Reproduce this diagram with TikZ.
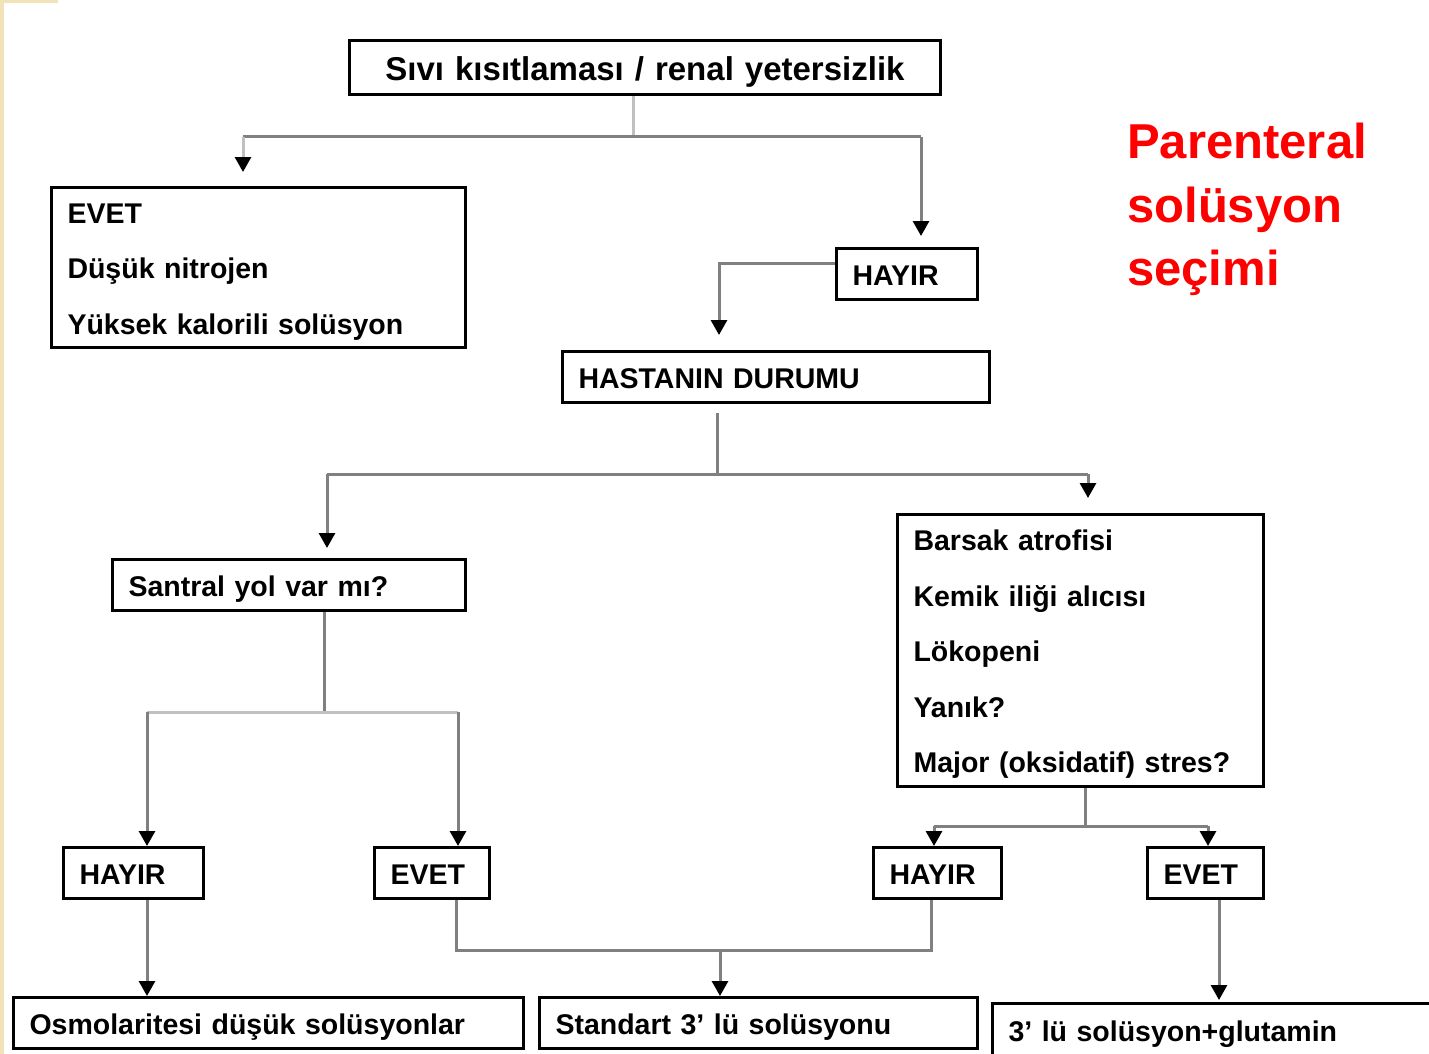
\documentclass[tikz,border=0pt]{standalone}
\usepackage{fontspec}
\setmainfont{Liberation Sans}
\usetikzlibrary{arrows.meta,calc}
\definecolor{conngray}{HTML}{808080}
\definecolor{connlight}{HTML}{C0C0C0}
\definecolor{slideedge}{HTML}{F2E2B8}
\definecolor{titlered}{HTML}{FF0000}
\newcommand{\firststrut}{\rule{0pt}{28pt}}
\tikzset{
  every node/.style={font=\fontsize{28.5}{55.5}\selectfont\bfseries},
  box/.style={draw=black, line width=3pt, inner xsep=16pt, inner ysep=0pt, align=left, anchor=center},
  single/.style={text height=26pt, text depth=2.6pt},
  conn/.style={draw=conngray, line width=3pt},
  connl/.style={draw=connlight, line width=3pt},
  arr/.style={-{Triangle[width=16pt,length=15pt,color=black]}},
}
\begin{document}
\begin{tikzpicture}[x=1pt,y=-1pt]
\clip (0,0) rectangle (1429,1054);
\fill[white] (0,0) rectangle (1429,1054);
\fill[slideedge] (0,0) rectangle (4,1054);
\fill[slideedge] (0,0) rectangle (58,3);

% boxes
\node[box, align=center, minimum width=591pt, minimum height=54pt, text width=559pt,
      font=\fontsize{33}{40}\selectfont\bfseries, text height=29pt, text depth=2.6pt] (top) at (645,67.5) {S\i v\i{} k\i s\i tlamas\i{} / renal yetersizlik};
\node[box, minimum width=414pt, minimum height=160pt, text width=382pt] (evetA) at (258.5,267.5) {\firststrut EVET\\Düşük nitrojen\\Yüksek kalorili solüsyon};
\node[box, single, minimum width=141pt, minimum height=51pt, text width=109pt] (hayirA) at (907,274) {HAYIR};
\node[box, single, minimum width=427pt, minimum height=51pt, text width=395pt] (hasta) at (776,377) {HASTANIN DURUMU};
\node[box, single, minimum width=353pt, minimum height=51pt, text width=321pt] (santral) at (289,585) {Santral yol var m\i ?};
\node[box, minimum width=366pt, minimum height=272pt, text width=334pt] (list) at (1080.5,650.5) {\firststrut Barsak atrofisi\\Kemik iliği al\i c\i s\i\\Lökopeni\\Yan\i k?\\Major (oksidatif) stres?};
\node[box, single, minimum width=140pt, minimum height=51pt, text width=108pt] (hayirL) at (133.5,873) {HAYIR};
\node[box, single, minimum width=115pt, minimum height=51pt, text width=83pt] (evetM) at (432,873) {EVET};
\node[box, single, minimum width=128pt, minimum height=51pt, text width=96pt] (hayirR) at (937.5,873) {HAYIR};
\node[box, single, minimum width=116pt, minimum height=51pt, text width=84pt] (evetR) at (1205.5,873) {EVET};
\node[box, single, minimum width=510pt, minimum height=51pt, text width=478pt] (osmo) at (268.5,1023) {Osmolaritesi düşük solüsyonlar};
\node[box, single, minimum width=438pt, minimum height=51pt, text width=406pt] (std) at (758.5,1023) {Standart 3' lü solüsyonu};
\node[box, single, minimum width=600pt, minimum height=53pt, text width=568pt] (glut) at (1292.5,1030) {3' lü solüsyon+glutamin};

% title
\node[anchor=north west, inner sep=0pt, align=left, text=titlered,
      font=\fontsize{49}{63.5}\selectfont\bfseries] (title) at (1127,123) {Parenteral\\solüsyon\\seçimi};

% junction coordinates
\coordinate (c1) at (633,137);
\coordinate (c1L) at (243,137);
\coordinate (c1R) at (921,137);
\coordinate (c2) at (719,263);
\coordinate (c3) at (717,474);
\coordinate (c3L) at (327,474);
\coordinate (c3R) at (1088,474);
\coordinate (c4) at (324,712);
\coordinate (c4L) at (147,712);
\coordinate (c4R) at (458,712);
\coordinate (c5) at (1085,826);
\coordinate (c5L) at (934,826);
\coordinate (c5R) at (1208,826);
\coordinate (c7) at (720,950);
\coordinate (c7L) at (456,950);
\coordinate (c7R) at (931,950);
\coordinate (c8) at (1219,950);

% connectors
\draw[connl] (c1 |- top.south) -- (c1);
\draw[conn] (c1L) -- (c1R);
\draw[connl, arr, shorten >=14pt] (c1L) -- (c1L |- evetA.north);
\draw[conn, arr, shorten >=11pt] (c1R) -- (c1R |- hayirA.north);

\draw[conn, arr, shorten >=15pt] (hayirA.west |- c2) -- (c2) -- (c2 |- hasta.north);

\draw[conn, shorten <=9pt] (c3 |- hasta.south) -- (c3);
\draw[conn] (c3L) -- (c3R);
\draw[conn, arr, shorten >=10pt] (c3L) -- (c3L |- santral.north);
\draw[conn, arr, shorten >=15pt] (c3R) -- (c3R |- list.north);

\draw[conn] (c4 |- santral.south) -- (c4);
\draw[connl] (c4L) -- (c4R);
\draw[conn, arr] (c4L) -- (c4L |- hayirL.north);
\draw[conn, arr] (c4R) -- (c4R |- evetM.north);

\draw[conn] (c5 |- list.south) -- (c5);
\draw[conn] (c5L) -- (c5R);
\draw[conn, arr] (c5L) -- (c5L |- hayirR.north);
\draw[conn, arr] (c5R) -- (c5R |- evetR.north);

\draw[conn, arr] (c4L |- hayirL.south) -- (c4L |- osmo.north);

\draw[conn] (c7L |- evetM.south) -- (c7L) -- (c7R) -- (c7R |- hayirR.south);
\draw[conn, arr] (c7) -- (c7 |- std.north);

\draw[conn, arr, shorten >=2pt] (c8 |- evetR.south) -- (c8 |- glut.north);
\end{tikzpicture}
\end{document}
